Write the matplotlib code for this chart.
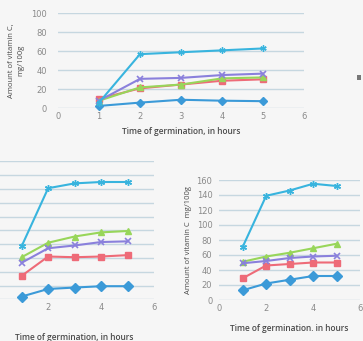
import matplotlib
matplotlib.use("Agg")
import matplotlib.pyplot as plt
from matplotlib.patches import Rectangle

hours = [1, 2, 3, 4, 5]

# Top chart
top_cyan = [6, 57, 59, 61, 63]
top_purple = [8, 31, 32, 35, 36.5]
top_green = [8, 22, 25, 31.5, 32.5]
top_red = [10, 21, 25, 29, 30.5]
top_blue = [2.5, 6, 9, 8, 7.5]

# Bottom-left chart
bl_cyan = [77, 161, 168, 170, 170]
bl_green = [61, 82, 91, 97, 99]
bl_purple = [53, 74, 78, 83, 84]
bl_red = [34, 62, 61, 62, 64]
bl_blue = [4, 15, 17, 19, 19]

# Bottom-right chart
br_cyan = [71, 139, 146, 155, 152]
br_green = [51, 58, 63, 69, 75]
br_purple = [49, 52, 56, 58, 59]
br_red = [29, 46, 48, 50, 50]
br_blue = [13, 22, 27, 32, 32]

top_yticks = [0, 20, 40, 60, 80, 100]
top_xticks = [0, 1, 2, 3, 4, 5, 6]
bl_yticks = [0, 20, 40, 60, 80, 100, 120, 140, 160, 180, 200]
bl_xticks = [2, 4, 6]
br_yticks = [0, 20, 40, 60, 80, 100, 120, 140, 160]
br_xticks = [0, 2, 4, 6]

xlabel = "Time of germination, in hours"

C_CYAN = "#38b4de"
C_PURPLE = "#8a80dc"
C_GREEN = "#98d65a"
C_RED = "#ee6b78"
C_BLUE = "#3b9ad8"
GRID = "#c6d7e0"
TXT = "#8a8a8a"
LBL = "#4a4a4a"
BG = "#f6f6f6"

STAR = (6, 2, 0)

fig = plt.figure(figsize=(3.63, 3.41), dpi=100, facecolor=BG)


def draw(ax, cyan, purple, green, red, blue, ms=4.0):
    ax.set_facecolor(BG)
    kw = dict(lw=1.5, markersize=ms, clip_on=False)
    ax.plot(hours, blue, color=C_BLUE, marker="D", mec=C_BLUE, **kw)
    ax.plot(hours, red, color=C_RED, marker="s", mec=C_RED, **kw)
    ax.plot(hours, green, color=C_GREEN, marker="^", mec=C_GREEN, **kw)
    ax.plot(hours, purple, color=C_PURPLE, marker="x", mew=1.2, **kw)
    ax.plot(hours, cyan, color=C_CYAN, marker=STAR, mew=1.0, **kw)
    for s in ax.spines.values():
        s.set_visible(False)
    ax.grid(axis="y", color=GRID, lw=1.0)
    ax.set_axisbelow(True)
    ax.tick_params(length=0, labelsize=6, labelcolor=TXT, pad=3)


# Top chart
ax1 = fig.add_axes([58 / 363, 1 - 108.3 / 341, 246 / 363, 95 / 341])
draw(ax1, top_cyan, top_purple, top_green, top_red, top_blue, ms=4.5)
ax1.set_xlim(0, 6)
ax1.set_ylim(0, 100)
ax1.set_xticks(top_xticks)
ax1.set_yticks(top_yticks)
ax1.set_xlabel(xlabel, fontsize=6, color=LBL, fontweight="semibold", labelpad=4, family="Open Sans")
ax1.set_ylabel("Amount of vitamin C,\nmg/100g", fontsize=5.5, color=LBL, labelpad=5, family="Open Sans", linespacing=1.5)
ax1.tick_params(axis="y", pad=8)

# Bottom-left chart (left part cropped)
ax2 = fig.add_axes([-4.8 / 363, 1 - 299.3 / 341, 158.8 / 363, 138 / 341])
draw(ax2, bl_cyan, bl_purple, bl_green, bl_red, bl_blue, ms=5)
ax2.set_xlim(0, 6)
ax2.set_ylim(0, 200)
ax2.set_xticks(bl_xticks)
ax2.set_yticks(bl_yticks)
ax2.set_yticklabels([])
ax2.set_xlabel(xlabel, fontsize=6, color=LBL, fontweight="semibold", labelpad=15, family="Open Sans")

# Bottom-right chart
ax3 = fig.add_axes([219.3 / 363, 1 - 300 / 341, 140.7 / 363, 120 / 341])
draw(ax3, br_cyan, br_purple, br_green, br_red, br_blue, ms=5)
ax3.set_xlim(0, 6)
ax3.set_ylim(0, 160)
ax3.set_xticks(br_xticks)
ax3.set_yticks(br_yticks)
ax3.set_xlabel(xlabel.replace(",", "."), fontsize=6, color=LBL, fontweight="semibold", labelpad=8, family="Open Sans")
ax3.set_ylabel("Amount of vitamin C  mg/100g", fontsize=5.5, color=LBL, labelpad=3, family="Open Sans")
ax3.tick_params(axis="y", pad=5)

# small legend mark at right edge
fig.patches.append(Rectangle((357 / 363, 1 - 80 / 341), 4 / 363, 5 / 341,
                             transform=fig.transFigure, facecolor="#777777", edgecolor="none"))

fig.savefig("out.png", dpi=100, facecolor=BG)
